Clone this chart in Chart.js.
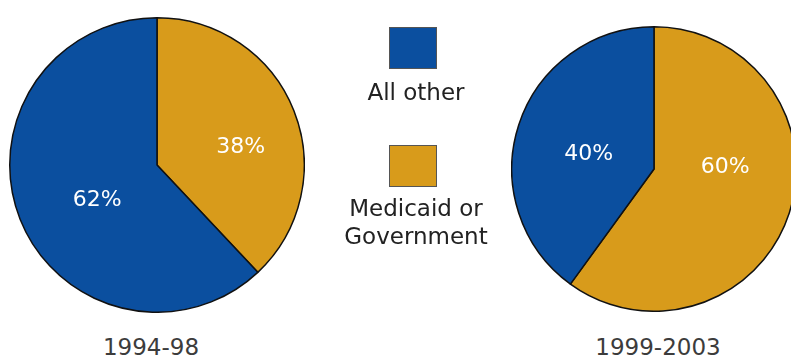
<!DOCTYPE html>
<html>
<head>
<meta charset="utf-8">
<script src="https://cdn.jsdelivr.net/npm/chart.js@4"></script>
<style>
  html, body { margin: 0; padding: 0; background: #fff; }
  #wrap { position: relative; width: 791px; height: 359px; overflow: hidden; font-family: "DejaVu Sans", Verdana, sans-serif; }
  .pie { position: absolute; }
  #pie1 { left: 9px; top: 17px; width: 296px; height: 296px; }
  #pie2 { left: 511px; top: 26px; width: 286px; height: 286px; }
  .year { position: absolute; top: 334px; font-size: 23px; color: #3c3c3c; text-align: center; width: 200px; }
  .key { position: absolute; left: 389px; width: 46px; height: 40px; border: 1px solid #555; }
  .keytxt { position: absolute; left: 316px; width: 200px; text-align: center; font-size: 23px; color: #222; line-height: 28px; }
</style>
</head>
<body>
<div id="wrap">
  <div class="pie" id="pie1"><canvas id="c1"></canvas></div>
  <div class="pie" id="pie2"><canvas id="c2"></canvas></div>
  <div class="year" id="y1" style="left:51px"></div>
  <div class="year" id="y2" style="left:558px"></div>
  <div class="key" id="k1" style="top:27px"></div>
  <div class="keytxt" id="t1" style="top:78px"></div>
  <div class="key" id="k2" style="top:145px"></div>
  <div class="keytxt" id="t2" style="top:194px"></div>
</div>
<script>
// categorias y valores (en %)
const categorias = ["Medicaid or Government", "All other"];
const periodos = ["1994-98", "1999-2003"];
const valores9498 = [38, 62];
const valores9903 = [60, 40];
const colores = ["#d89b1b", "#0b4f9f"];

// etiquetas de porcentaje dentro de cada porción
const etiquetasPie = {
  id: "etiquetasPie",
  afterDatasetsDraw(chart, args, opts) {
    const ctx = chart.ctx;
    const meta = chart.getDatasetMeta(0);
    ctx.save();
    ctx.fillStyle = "#ffffff";
    ctx.font = "22px 'DejaVu Sans', Verdana, sans-serif";
    ctx.textAlign = "center";
    ctx.textBaseline = "middle";
    meta.data.forEach((arc, i) => {
      const p = arc.getProps(["x", "y", "startAngle", "endAngle", "outerRadius"], true);
      const ang = (p.startAngle + p.endAngle) / 2 + (opts.giro ? opts.giro[i] : 0);
      const r = p.outerRadius * (opts.radio ? opts.radio[i] : 0.55);
      const v = chart.data.datasets[0].data[i];
      ctx.fillText(v + "%", p.x + Math.cos(ang) * r, p.y + Math.sin(ang) * r);
    });
    ctx.restore();
  }
};

function crearPie(id, datos, opcionesEtiqueta) {
  return new Chart(document.getElementById(id), {
    type: "pie",
    data: {
      labels: categorias,
      datasets: [{
        data: datos,
        backgroundColor: colores,
        borderColor: "#111111",
        borderWidth: 1.5
      }]
    },
    options: {
      responsive: true,
      maintainAspectRatio: false,
      animation: false,
      layout: { padding: 0 },
      plugins: {
        legend: { display: false },
        tooltip: { enabled: false },
        etiquetasPie: opcionesEtiqueta
      }
    },
    plugins: [etiquetasPie]
  });
}

crearPie("c1", valores9498, { radio: [0.58, 0.47], giro: [0.17, -0.15] });
crearPie("c2", valores9903, { radio: [0.5, 0.47], giro: [-0.34, -0.09] });

// textos de periodo y leyenda
document.getElementById("y1").textContent = periodos[0];
document.getElementById("y2").textContent = periodos[1];
document.getElementById("k1").style.background = colores[1];
document.getElementById("k2").style.background = colores[0];
document.getElementById("t1").textContent = categorias[1];
document.getElementById("t2").innerHTML = "Medicaid or<br>Government";
</script>
</body>
</html>
